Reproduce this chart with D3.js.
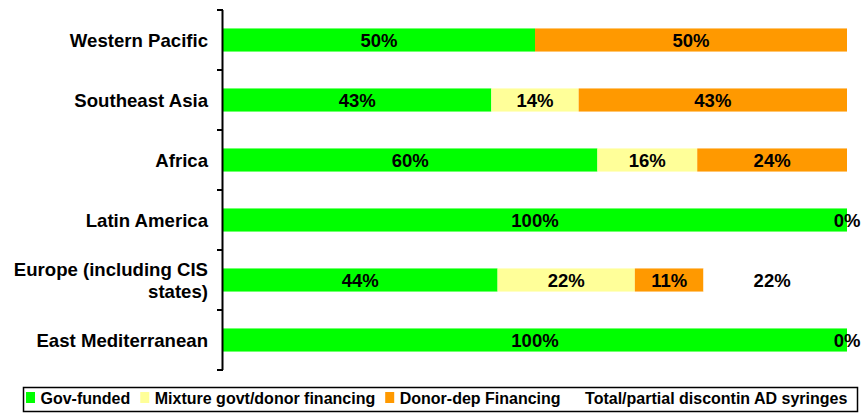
<!DOCTYPE html>
<html>
<head>
<meta charset="utf-8">
<title>Financing of AD syringes by region</title>
<script src="https://d3js.org/d3.v7.min.js"></script>
<style>
  body { margin: 0; background: #fff; }
  text { font-family: Arial, "Liberation Sans", sans-serif; font-weight: bold; fill: #000; }
</style>
</head>
<body>
<svg id="chart" width="861" height="413"></svg>
<script>
// regions, top to bottom
var regions = ["Western Pacific", "Southeast Asia", "Africa", "Latin America",
               "Europe (including CIS states)", "East Mediterranean"];

// percentages per series (null = not labelled / absent)
var govFunded   = [50, 43, 60, 100, 44, 100];
var mixture     = [null, 14, 16, null, 22, null];
var donorDep    = [50, 43, 24, null, 11, null];
var discontin   = [null, null, null, 0, 22, 0];

var seriesNames = ["Gov-funded", "Mixture govt/donor financing", "Donor-dep Financing",
                   "Total/partial discontin AD syringes"];
var seriesColors = ["#00ff00", "#ffff99", "#ff9900", "#ffffff"];
var seriesValues = [govFunded, mixture, donorDep, discontin];

var svg = d3.select("#chart");

var x = d3.scaleLinear().domain([0, 100]).range([223, 847]);
var y = d3.scaleBand().domain(regions).range([10, 370]).paddingInner(0.615).paddingOuter(0.3075);

// stack rows
var rows = regions.map(function(r, i) {
  var x0 = 0;
  return seriesValues.map(function(vals, s) {
    var v = vals[i];
    var seg = {region: r, series: s, value: v, x0: x0, x1: x0 + (v || 0)};
    x0 += (v || 0);
    return seg;
  });
});
var segs = [].concat.apply([], rows);

svg.append("g").selectAll("rect")
  .data(segs.filter(function(d) { return d.value; }))
  .enter().append("rect")
    .attr("x", function(d) { return x(d.x0); })
    .attr("y", function(d) { return y(d.region); })
    .attr("width", function(d) { return x(d.x1) - x(d.x0); })
    .attr("height", y.bandwidth())
    .attr("fill", function(d) { return seriesColors[d.series]; });

svg.append("g").selectAll("text")
  .data(segs.filter(function(d) { return d.value !== null; }))
  .enter().append("text")
    .attr("x", function(d) { return d.value === 0 ? x(d.x0) : (x(d.x0) + x(d.x1)) / 2; })
    .attr("y", function(d) { return y(d.region) + y.bandwidth() / 2; })
    .attr("dy", "0.36em")
    .attr("text-anchor", "middle")
    .style("font-size", "18.5px")
    .text(function(d) { return d.value + "%"; });

// y axis with ticks between categories
var axisG = svg.append("g");
axisG.append("line")
  .attr("x1", 222.5).attr("x2", 222.5)
  .attr("y1", 10).attr("y2", 370)
  .attr("stroke", "#000").attr("stroke-width", 2);
var bounds = regions.map(function(r) { return y(r) - y.step() * y.paddingOuter(); });
bounds.push(370);
axisG.selectAll(".tk").data(bounds).enter().append("line")
  .attr("class", "tk")
  .attr("x1", 217).attr("x2", 223)
  .attr("y1", function(d) { return d; }).attr("y2", function(d) { return d; })
  .attr("stroke", "#000").attr("stroke-width", 2);

// category labels (wrap the long one)
var labelLines = {
  "Europe (including CIS states)": ["Europe (including CIS", "states)"]
};
var catG = svg.append("g");
regions.forEach(function(r) {
  var lines = labelLines[r] || [r];
  var cy = y(r) + y.bandwidth() / 2;
  var t = catG.append("text")
    .attr("text-anchor", "end")
    .style("font-size", "18.6px");
  lines.forEach(function(l, k) {
    t.append("tspan")
      .attr("x", 208)
      .attr("y", cy + (k - (lines.length - 1) / 2) * 22)
      .attr("dy", "0.36em")
      .text(l);
  });
});

// legend
var leg = svg.append("g");
leg.append("rect")
  .attr("x", 23.5).attr("y", 387.5).attr("width", 834).attr("height", 24)
  .attr("fill", "none").attr("stroke", "#000").attr("stroke-width", 1.5);
var lx = 26;
seriesNames.forEach(function(name, s) {
  leg.append("rect")
    .attr("x", lx).attr("y", 392).attr("width", 9).attr("height", 11)
    .attr("fill", seriesColors[s]);
  var t = leg.append("text")
    .attr("x", lx + 14.5).attr("y", 398).attr("dy", "0.36em")
    .style("font-size", "16px")
    .text(name);
  lx += 14.5 + t.node().getComputedTextLength() + 10;
});
</script>
</body>
</html>
